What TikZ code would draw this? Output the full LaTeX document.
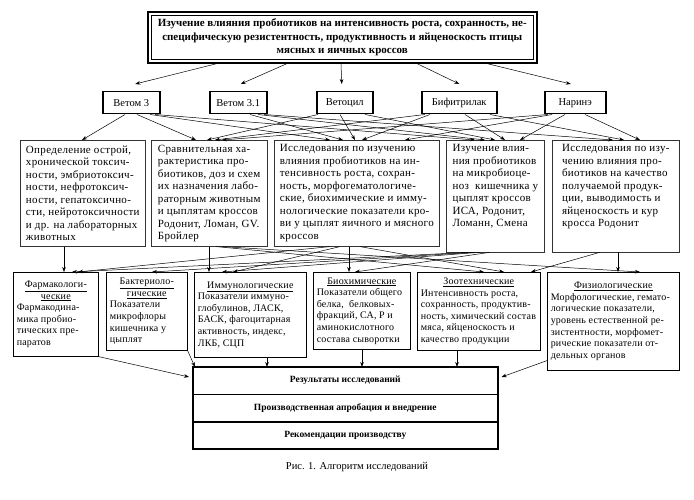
\documentclass[tikz,border=0pt]{standalone}
\usepackage{fontspec}
\setmainfont{Liberation Serif}
\usetikzlibrary{arrows.meta,calc}
\newcommand\lnkdown[4]{\draw[arr] ($(#1.south west)+(#2,0)$) -- ($(#3.north west)+(#4,0)$);}
\newcommand\hd[2]{\makebox[#1pt][c]{\underline{#2}}}
\begin{document}
\begin{tikzpicture}[x=1pt,y=-1pt,
  arr/.style={-{Stealth[length=5pt,width=3.6pt]}, line width=0.5pt},
  prod/.style={draw, line width=1.5pt, minimum height=22pt, inner sep=0pt, anchor=north west, font=\fontsize{10.5}{12}\selectfont},
  rbox/.style={draw=black!80, line width=0.6pt, anchor=north west, align=left, inner sep=4pt, minimum height=106pt, font=\fontsize{11}{12.5}\selectfont\addfontfeature{LetterSpace=3}},
  fbox/.style={draw, line width=0.6pt, anchor=north west, align=left, inner sep=3pt, font=\fontsize{10}{11.6}\selectfont\addfontfeature{LetterSpace=2}},
  resrow/.style={draw, line width=0.6pt, minimum width=304pt, minimum height=26.7pt, inner sep=0pt, anchor=north west, font=\bfseries\fontsize{9.5}{11}\selectfont},
]
\useasboundingbox[fill=white] (0,0) rectangle (694,500);

% title
\node[draw, line width=0.6pt, anchor=north west, minimum width=382pt, minimum height=44pt, align=center, inner sep=0pt,
      font=\bfseries\fontsize{11}{13.3}\selectfont] (t) at (151,15)
  {Изучение влияния пробиотиков на интенсивность роста, сохранность, не-\\
   специфическую резистентность, продуктивность и яйценоскость птицы\\
   мясных и яичных кроссов};
\draw[line width=2pt] ($(t.north west)+(-3,-3)$) rectangle ($(t.south east)+(3,3)$);

% products
\node[prod, minimum width=57pt] (p1) at (102,91) {Ветом 3};
\node[prod, minimum width=57pt] (p2) at (209,91) {Ветом 3.1};
\node[prod, minimum width=56pt] (p3) at (316,91) {Ветоцил};
\node[prod, minimum width=75pt] (p4) at (421,91) {Бифитрилак};
\node[prod, minimum width=61pt] (p5) at (544,91) {Наринэ};

\draw[arr] ($(t.south west)+(66,4)$) -- ($(p1.north)+(4,-7)$);
\draw[arr] ($(t.south west)+(136,4)$) -- ($(p2.north)+(2.5,-7)$);
\draw[arr] ($(t.south west)+(190,4)$) -- ($(p3.north)+(-3,-7)$);
\draw[arr] ($(t.south west)+(266,4)$) -- ($(p4.north)+(0,-7)$);
\draw[arr] ($(t.south west)+(336,4)$) -- ($(p5.north)+(-4.5,-7)$);

% research directions
\node[rbox, minimum width=125pt] (b1) at (20,140)
  {Определение острой,\\хронической токсич-\\ности, эмбриотоксич-\\ности, нефротоксич-\\ности, гепатоксично-\\сти, нейротоксичности\\и др. на лабораторных\\животных};
\node[rbox, minimum width=116pt] (b2) at (151,140)
  {Сравнительная ха-\\рактеристика про-\\биотиков, доз и схем\\их назначения лабо-\\раторным животным\\и цыплятам кроссов\\Родонит, Ломан, GV.\\Бройлер};
\node[rbox, minimum width=165pt] (b3) at (274,140)
  {Исследования по изучению\\влияния пробиотиков на ин-\\тенсивность роста, сохран-\\ность, морфогематологиче-\\ские, биохимические и имму-\\нологические показатели кро-\\ви у цыплят яичного и мясного\\кроссов};
\node[rbox, minimum width=98pt] (b4) at (446,140)
  {Изучение влия-\\ния пробиотиков\\на микробиоце-\\ноз~ кишечника у\\цыплят кроссов\\ИСА, Родонит,\\Ломанн, Смена\\[9pt]};
\node[rbox, minimum width=127pt] (b5) at (552,140)
  {Исследования по изу-\\чению влияния про-\\биотиков на качество\\получаемой продук-\\ции, выводимость и\\яйценоскость и кур\\кросса Родонит\\[9pt]};

% products -> directions
\lnkdown{p1}{23}{b1}{62}
\lnkdown{p1}{35}{b2}{45}
\lnkdown{p1}{48}{b3}{56}
\lnkdown{p1}{53}{b4}{29}
\lnkdown{p2}{41}{b3}{69}
\lnkdown{p2}{49}{b4}{39}
\lnkdown{p2}{55}{b5}{61}
\lnkdown{p3}{2}{b2}{56}
\lnkdown{p3}{24}{b3}{81}
\lnkdown{p3}{49}{b4}{49}
\lnkdown{p4}{4}{b2}{64}
\lnkdown{p4}{9}{b3}{88}
\lnkdown{p4}{44}{b4}{59}
\lnkdown{p4}{69}{b5}{72}
\lnkdown{p5}{4}{b2}{71}
\lnkdown{p5}{8}{b3}{131}
\lnkdown{p5}{21}{b4}{74}
\lnkdown{p5}{41}{b5}{88}

% fields of study
\node[fbox, minimum width=85pt, minimum height=84pt] (f1) at (13,272)
  {\hd{78}{Фармакологи-}\\\hd{78}{ческие}\\Фармакодина-\\мика пробио-\\тических пре-\\паратов};
\node[fbox, minimum width=81pt, minimum height=78pt] (f2) at (106,272)
  {\hd{74}{Бактериоло-}\\\hd{74}{гические}\\Показатели\\микрофлоры\\кишечника у\\цыплят};
\node[fbox, minimum width=112pt, minimum height=85pt] (f3) at (194,272)
  {\hd{105}{Иммунологические}\\Показатели иммуно-\\глобулинов, ЛАСК,\\БАСК, фагоцитарная\\активность, индекс,\\ЛКБ, СЦП};
\node[fbox, minimum width=97pt, minimum height=77pt] (f4) at (313,272)
  {\hd{90}{Биохимические}\\Показатели общего\\белка,~ белковых-\\фракций, СА, Р и\\аминокислотного\\состава сыворотки};
\node[fbox, minimum width=123pt, minimum height=78pt] (f5) at (417,272)
  {\hd{116}{Зоотехнические}\\Интенсивность роста,\\сохранность, продуктив-\\ность, химический состав\\мяса, яйценоскость и\\качество продукции};
\node[fbox, minimum width=132pt, minimum height=98pt] (f6) at (547,272)
  {\hd{125}{Физиологические}\\Морфологические, гемато-\\логические показатели,\\уровень естественной ре-\\зистентности, морфомет-\\рические показатели от-\\дельных органов};

% directions -> fields
\lnkdown{b1}{44}{f1}{51}
\lnkdown{b2}{58}{f3}{15}
\lnkdown{b2}{65}{f5}{67}
\lnkdown{b2}{71}{f6}{93}
\lnkdown{b3}{75}{f4}{36}
\lnkdown{b3}{56}{f1}{65}
\lnkdown{b3}{66}{f3}{39}
\lnkdown{b3}{86}{f5}{87}
\lnkdown{b4}{24}{f1}{59}
\lnkdown{b4}{29}{f2}{46}
\lnkdown{b4}{34}{f3}{28}
\lnkdown{b4}{44}{f4}{42}
\lnkdown{b5}{66}{f6}{71}
\lnkdown{b5}{48}{f5}{114}

% results
\node[resrow] (r1) at (193,367) {Результаты исследований};
\node[resrow] (r2) at (r1.south west) {Производственная апробация и внедрение};
\node[resrow] (r3) at (r2.south west) {Рекомендации производству};
\draw[line width=1.8pt] (r1.north west) rectangle (r3.south east);

\draw[arr] (f1.south east) -- ($(r1.north west)+(-4,10)$);
\draw[arr] (f2.south east) -- ($(r1.north west)+(2,0)$);
\lnkdown{f3}{73}{r1}{74}
\lnkdown{f4}{49}{r1}{169}
\lnkdown{f5}{40}{r1}{264}
\draw[arr] ($(f6.south west)+(0,-10)$) -- ($(r1.north east)+(4,10)$);

\node[font=\fontsize{10.5}{12}\selectfont] (cap) at (357,467) {Рис. 1. Алгоритм исследований};
\end{tikzpicture}
\end{document}
